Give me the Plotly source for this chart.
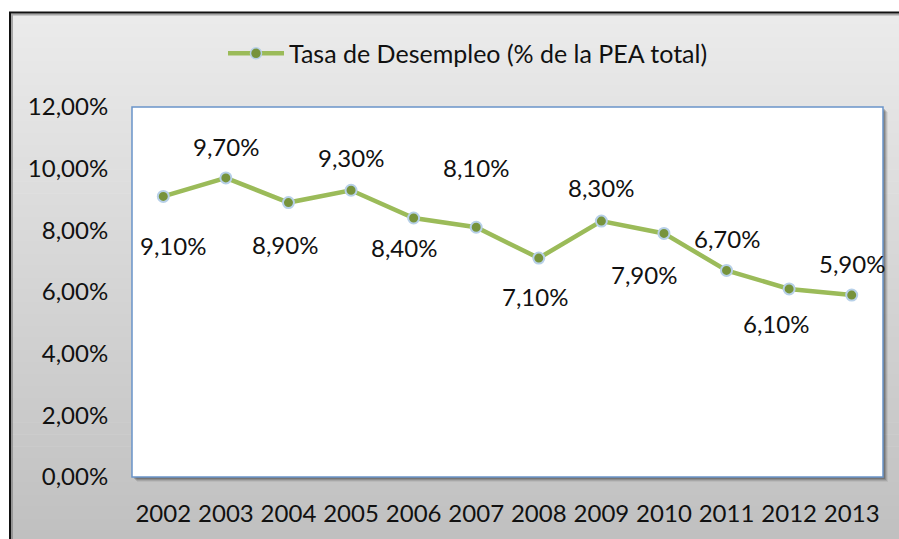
import plotly.graph_objects as go

# ---- data ----
years = ["2002", "2003", "2004", "2005", "2006", "2007", "2008", "2009", "2010", "2011", "2012", "2013"]
desempleo_pct = [9.1, 9.7, 8.9, 9.3, 8.4, 8.1, 7.1, 8.3, 7.9, 6.7, 6.1, 5.9]
series_name = "Tasa de Desempleo (% de la PEA total)"
title_text = "Tasa de Desempleo (% de la PEA total, 2002-2013)"
y_ticks = [0.0, 0.02, 0.04, 0.06, 0.08, 0.10, 0.12]

# ---- label placement (pixel shifts, layout only) ----
label_dx = [10, 0, -3, 0, -10, 0, -4, 0, -20, 0, -13, 0]
label_dy = [-49, 31, -42, 33, -29, 60, -38, 34, -41, 32, -35, 32]

W, H = 899, 539
L, R, T, B = 132, 883, 107, 479
FONT = "Lato"
FS = 24
LINE_C = "#9bbb59"
MARK_C = "#77933c"
MARK_EDGE = "#b7d0e8"
TXT = "#111111"

def px(x):
    return (x - L) / (R - L)

def py(y):
    return (B - y) / (B - T)

yvals = [v / 100 for v in desempleo_pct]
xidx = list(range(len(years)))

fig = go.Figure()
fig.add_trace(go.Scatter(
    x=years, y=yvals, mode="lines+markers", name=series_name,
    line=dict(color=LINE_C, width=4.5),
    marker=dict(size=11, color=MARK_C, line=dict(color=MARK_EDGE, width=2)),
    showlegend=False, hoverinfo="x+y",
))

shapes = []
# gradient background (outer chart area)
top_c, bot_c = 235, 192
y0, y1 = 12, 545
n = 44
for i in range(n):
    a = y0 + (y1 - y0) * i / n
    b = y0 + (y1 - y0) * (i + 1) / n
    c = round(top_c + (bot_c - top_c) * (i + 0.5) / n)
    shapes.append(dict(type="rect", xref="paper", yref="paper", layer="below",
                       x0=px(10), x1=px(905), y0=py(a), y1=py(b + 0.6),
                       fillcolor=f"rgb({c},{c},{c})", line=dict(width=0)))
# outer border
shapes.append(dict(type="rect", xref="paper", yref="paper", layer="below",
                   x0=px(12), x1=px(910), y0=py(14), y1=py(560),
                   fillcolor="rgba(0,0,0,0)", line=dict(color="rgba(120,120,120,0.6)", width=2)))
shapes.append(dict(type="rect", xref="paper", yref="paper", layer="below",
                   x0=px(10), x1=px(908), y0=py(12), y1=py(558),
                   fillcolor="rgba(0,0,0,0)", line=dict(color="#111111", width=2)))
# plot-area shadow
for off, alpha in [(5, 0.06), (4, 0.10), (3, 0.14), (2, 0.18)]:
    shapes.append(dict(type="rect", xref="paper", yref="paper", layer="below",
                       x0=px(L + off), x1=px(R + off), y0=py(T + off), y1=py(B + off),
                       fillcolor=f"rgba(0,0,0,{alpha})", line=dict(width=0)))
# plot area
shapes.append(dict(type="rect", xref="paper", yref="paper", layer="below",
                   x0=0, x1=1, y0=0, y1=1, fillcolor="white",
                   line=dict(color="#6a94c9", width=1.5)))
# custom legend
leg_y = 53
shapes.append(dict(type="line", xref="paper", yref="paper", layer="above",
                   x0=px(228), x1=px(284), y0=py(leg_y), y1=py(leg_y),
                   line=dict(color=LINE_C, width=4.5)))
shapes.append(dict(type="circle", xref="paper", yref="paper", layer="above",
                   x0=px(250.5), x1=px(261.5), y0=py(leg_y - 5.5), y1=py(leg_y + 5.5),
                   fillcolor=MARK_C, line=dict(color=MARK_EDGE, width=1.5)))

annotations = [
    dict(text=series_name, xref="paper", yref="paper", x=px(287), y=py(leg_y),
         xanchor="left", yanchor="middle", showarrow=False,
         font=dict(family=FONT, size=25, color=TXT)),
    dict(text=f"<b>{title_text}</b>", xref="paper", yref="paper", x=px(822), y=py(0.5),
         xanchor="right", yanchor="bottom", showarrow=False,
         font=dict(family="Liberation Serif", size=31, color="#000000")),
]
for i, v, dx, dy in zip(xidx, desempleo_pct, label_dx, label_dy):
    annotations.append(dict(
        text=f"{v:.2f}%".replace(".", ","), x=i, y=v / 100, xref="x", yref="y",
        xshift=dx, yshift=dy, showarrow=False,
        font=dict(family=FONT, size=FS, color=TXT)))

fig.update_layout(
    width=W, height=H,
    margin=dict(l=L, r=W - R, t=T, b=H - B, pad=0),
    paper_bgcolor="white", plot_bgcolor="rgba(0,0,0,0)",
    separators=",.",
    font=dict(family=FONT, size=FS, color=TXT),
    shapes=shapes, annotations=annotations,
    xaxis=dict(type="category", range=[-0.5, 11.5], showgrid=False, zeroline=False,
               showline=False, ticks="outside", ticklen=15, tickcolor="rgba(0,0,0,0)",
               tickfont=dict(family=FONT, size=FS, color=TXT)),
    yaxis=dict(range=[0, 0.12], tickvals=y_ticks, tickformat=".2%", showgrid=False,
               zeroline=False, showline=False, ticks="outside", ticklen=18,
               tickcolor="rgba(0,0,0,0)",
               tickfont=dict(family=FONT, size=FS, color=TXT)),
    showlegend=False,
)

fig.write_html("out.html", config={"displayModeBar": False},
               post_script="document.body.style.margin='0';document.body.style.overflow='hidden';")
